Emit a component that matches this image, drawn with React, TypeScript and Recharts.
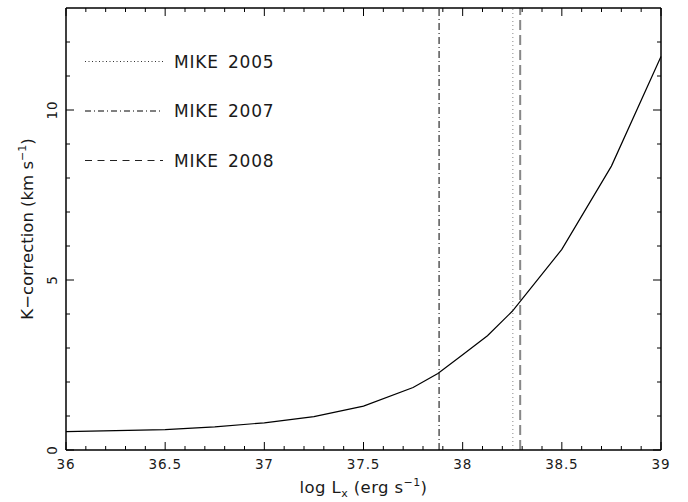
import React from 'react';
import { LineChart, Line, XAxis, YAxis, ReferenceLine } from 'recharts';

// K-correction as a function of X-ray luminosity
const logLx = [36, 36.25, 36.5, 36.75, 37, 37.25, 37.5, 37.75, 37.875, 38, 38.125, 38.25, 38.5, 38.75, 39];
const kCorrection = [0.54, 0.57, 0.6, 0.68, 0.8, 0.98, 1.29, 1.84, 2.25, 2.8, 3.36, 4.08, 5.9, 8.35, 11.57];

// Observation epochs marked as vertical lines
const epochNames = ['MIKE 2005', 'MIKE 2007', 'MIKE 2008'];
const epochLogLx = [38.253, 37.881, 38.29];

// Axis ticks
const xMajorTicks = [36, 36.5, 37, 37.5, 38, 38.5, 39];
const xMinorTicks = [
  36.1, 36.2, 36.3, 36.4, 36.6, 36.7, 36.8, 36.9,
  37.1, 37.2, 37.3, 37.4, 37.6, 37.7, 37.8, 37.9,
  38.1, 38.2, 38.3, 38.4, 38.6, 38.7, 38.8, 38.9,
];
const yMajorTicks = [0, 5, 10];
const yMinorTicks = [1, 2, 3, 4, 6, 7, 8, 9, 11, 12];

const X_DOMAIN: [number, number] = [36, 39];
const Y_DOMAIN: [number, number] = [0, 13];

const data = logLx.map((x, i) => ({ x, k: kCorrection[i] }));

const epochStyles = [
  { stroke: '#888', strokeWidth: 1, dash: '1 3', legendStroke: '#333', legendWidth: 1, legendDash: '1 2.5' },
  { stroke: '#000', strokeWidth: 1, dash: '7 3 1 3', legendStroke: '#000', legendWidth: 1, legendDash: '6 3 1 3' },
  { stroke: '#888', strokeWidth: 2, dash: '10 5', legendStroke: '#222', legendWidth: 1, legendDash: '7 5.5' },
];

const FONT = '"DejaVu Sans", "Liberation Sans", sans-serif';
const TEXT = '#1a1a1a';

const W = 688;
const H = 502;
// plot frame: left 66, top 8, right 661, bottom 450
const AX = { top: 8, right: 27, bottom: 52, left: 66 };
const PLOT_W = W - AX.left - AX.right;
const PLOT_H = H - AX.top - AX.bottom;

// inward tick lengths (px), converted to data units for each axis
const MAJOR_PX = 8;
const MINOR_PX = 4;
const xSpan = X_DOMAIN[1] - X_DOMAIN[0];
const ySpan = Y_DOMAIN[1] - Y_DOMAIN[0];
const pxToY = (px: number) => (px * ySpan) / PLOT_H;
const pxToX = (px: number) => (px * xSpan) / PLOT_W;

const BottomLabel = (props: any) => {
  const { x, y, payload } = props;
  return (
    <text x={x} y={y + 18.5} textAnchor="middle" fontFamily={FONT} fontSize={13.5} letterSpacing={0.8} fill={TEXT}>
      {String(payload.value)}
    </text>
  );
};

const LeftLabel = (props: any) => {
  const { x, y, payload } = props;
  const tx = x - 9;
  return (
    <text
      x={tx}
      y={y}
      transform={`rotate(-90, ${tx}, ${y})`}
      textAnchor="middle"
      fontFamily={FONT}
      fontSize={13.5}
      letterSpacing={0.8}
      fill={TEXT}
    >
      {String(payload.value)}
    </text>
  );
};

const axisLine = { stroke: '#000', strokeWidth: 1.5 };

const tickSegments = () => {
  const out: React.ReactNode[] = [];
  const xt = (v: number, len: number, key: string) => {
    const d = pxToY(len);
    out.push(
      <ReferenceLine key={'xb' + key} segment={[{ x: v, y: Y_DOMAIN[0] }, { x: v, y: Y_DOMAIN[0] + d }]} stroke="#000" strokeWidth={1} />,
      <ReferenceLine key={'xt' + key} segment={[{ x: v, y: Y_DOMAIN[1] }, { x: v, y: Y_DOMAIN[1] - d }]} stroke="#000" strokeWidth={1} />,
    );
  };
  const yt = (v: number, len: number, key: string) => {
    const d = pxToX(len);
    out.push(
      <ReferenceLine key={'yl' + key} segment={[{ x: X_DOMAIN[0], y: v }, { x: X_DOMAIN[0] + d, y: v }]} stroke="#000" strokeWidth={1} />,
      <ReferenceLine key={'yr' + key} segment={[{ x: X_DOMAIN[1], y: v }, { x: X_DOMAIN[1] - d, y: v }]} stroke="#000" strokeWidth={1} />,
    );
  };
  xMajorTicks.forEach((v) => xt(v, MAJOR_PX, 'M' + v));
  xMinorTicks.forEach((v) => xt(v, MINOR_PX, 'm' + v));
  yMajorTicks.forEach((v) => yt(v, MAJOR_PX, 'M' + v));
  yMinorTicks.forEach((v) => yt(v, MINOR_PX, 'm' + v));
  return out;
};

export default function App() {
  const plotCx = AX.left + PLOT_W / 2;
  const plotCy = AX.top + PLOT_H / 2;
  return (
    <div style={{ position: 'absolute', left: 0, top: 0, width: W, height: H, background: '#fff' }}>
      <LineChart width={W} height={H} data={data} margin={{ top: 0, right: 0, bottom: 0, left: 0 }}>
        <XAxis
          dataKey="x"
          type="number"
          domain={X_DOMAIN}
          ticks={xMajorTicks}
          interval={0}
          height={AX.bottom}
          tickSize={0}
          tickMargin={0}
          tickLine={false}
          axisLine={axisLine}
          tick={<BottomLabel />}
        />
        <XAxis
          xAxisId="top"
          orientation="top"
          type="number"
          domain={X_DOMAIN}
          height={AX.top}
          tick={false}
          tickLine={false}
          axisLine={axisLine}
        />
        <YAxis
          type="number"
          domain={Y_DOMAIN}
          ticks={yMajorTicks}
          interval={0}
          width={AX.left}
          tickSize={0}
          tickMargin={0}
          tickLine={false}
          axisLine={axisLine}
          tick={<LeftLabel />}
        />
        <YAxis
          yAxisId="right"
          orientation="right"
          type="number"
          domain={Y_DOMAIN}
          width={AX.right}
          tick={false}
          tickLine={false}
          axisLine={axisLine}
        />
        {tickSegments()}
        {epochLogLx.map((v, i) => (
          <ReferenceLine
            key={epochNames[i]}
            x={v}
            stroke={epochStyles[i].stroke}
            strokeWidth={epochStyles[i].strokeWidth}
            strokeDasharray={epochStyles[i].dash}
          />
        ))}
        <Line
          type="linear"
          dataKey="k"
          stroke="#000"
          strokeWidth={1.2}
          dot={false}
          activeDot={false}
          isAnimationActive={false}
        />
      </LineChart>
      <svg width={W} height={H} style={{ position: 'absolute', left: 0, top: 0, pointerEvents: 'none' }}>
        {epochNames.map((name, i) => {
          const yy = 61.5 + i * 49.5;
          const s = epochStyles[i];
          return (
            <g key={name}>
              <line x1={85} x2={163} y1={yy} y2={yy} stroke={s.legendStroke} strokeWidth={s.legendWidth} strokeDasharray={s.legendDash} />
              <text x={174} y={yy + 6.2} fontFamily={FONT} fontSize={17} letterSpacing={0.8} wordSpacing={3} fill={TEXT}>
                {name}
              </text>
            </g>
          );
        })}
        <text x={plotCx} y={493} textAnchor="middle" fontFamily={FONT} fontSize={16.5} letterSpacing={0.4} fill={TEXT}>
          log L<tspan fontSize={11} dy={4}>x</tspan>
          <tspan dy={-4}> (erg s</tspan>
          <tspan fontSize={11} dy={-7}>−1</tspan>
          <tspan dy={7}>)</tspan>
        </text>
        <text
          x={33}
          y={plotCy}
          transform={`rotate(-90, 33, ${plotCy})`}
          textAnchor="middle"
          fontFamily={FONT}
          fontSize={16.5}
          fill={TEXT}
        >
          K−correction (km s<tspan fontSize={11} dy={-7}>−1</tspan>
          <tspan dy={7}>)</tspan>
        </text>
      </svg>
    </div>
  );
}
